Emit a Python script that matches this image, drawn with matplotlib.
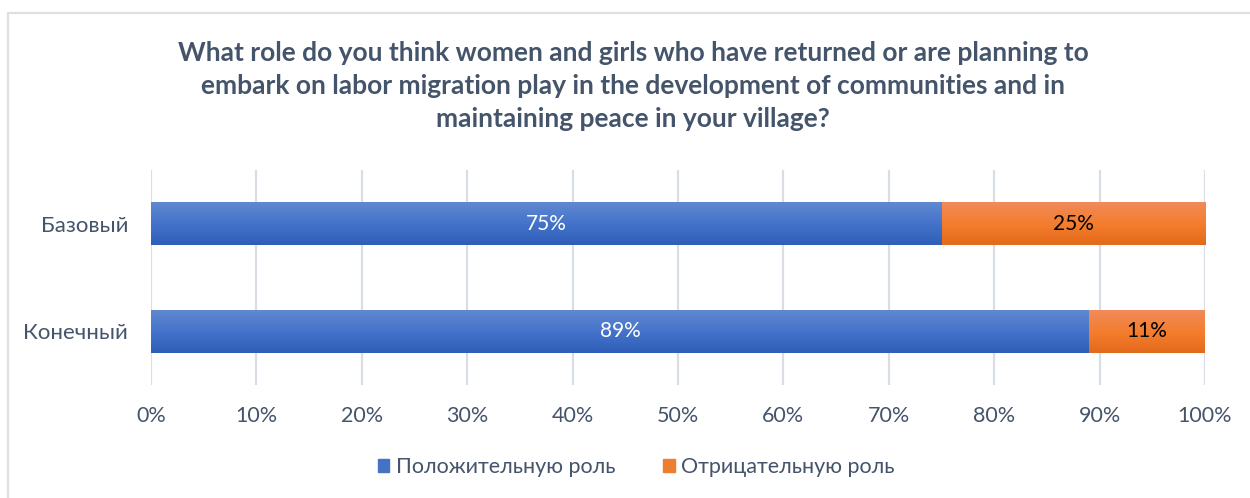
import matplotlib
matplotlib.use("Agg")
import matplotlib.pyplot as plt
import numpy as np
from matplotlib.patches import Rectangle
from matplotlib.colors import LinearSegmentedColormap

plt.rcParams['font.family'] = ['Lato', 'Noto Sans', 'DejaVu Sans']

categories = ["Базовый", "Конечный"]
positive = [75, 89]
negative = [25, 11]
series_names = ["Положительную роль", "Отрицательную роль"]
tick_values = [0, 10, 20, 30, 40, 50, 60, 70, 80, 90, 100]
tick_labels = [f"{v}%" for v in tick_values]
title = ("What role do you think women and girls who have returned or are planning to\n"
         "embark on labor migration play in the development of communities and in\n"
         "maintaining peace in your village?")

text_color = "#44546A"
blue_grad = ["#6089D2", "#4573CA", "#2F5EB9"]
orange_grad = ["#F08B5A", "#F47D2E", "#E46A1B"]
blue_solid = "#4472C4"
orange_solid = "#ED7D31"

W, H = 1250, 498
fig = plt.figure(figsize=(W / 100, H / 100), dpi=100)

# outer chart frame (top and left edges visible)
frame = Rectangle((7.5 / W, -0.1), 1.2, (H - 13.5) / H + 0.1,
                  transform=fig.transFigure, fill=False,
                  edgecolor="#DDE1E6", linewidth=1.6, zorder=0)
fig.patches.append(frame)

ax = fig.add_axes([151 / W, 1 - 385 / H, (1205 - 151) / W, (385 - 170) / H])
y = np.arange(len(categories))
bar_h = 0.40


def gradient_bars(left, widths, colors):
    cmap = LinearSegmentedColormap.from_list("g", colors)
    grad = np.linspace(0, 1, 64).reshape(-1, 1)
    bars = ax.barh(y, widths, left=left, height=bar_h, color=colors[1],
                   edgecolor="none", zorder=2)
    for b in bars:
        x0, y0 = b.get_x(), b.get_y()
        w, h = b.get_width(), b.get_height()
        im = ax.imshow(grad, cmap=cmap, aspect="auto",
                       extent=(x0, x0 + w, y0 + h, y0), zorder=3,
                       interpolation="bicubic")
        im.set_clip_path(b)
    return bars


gradient_bars(np.zeros(len(y)), positive, blue_grad)
gradient_bars(np.array(positive), negative, orange_grad)
ax.set_xlim(0, 100)
ax.set_ylim(1.5, -0.5)

for i in range(len(categories)):
    ax.text(positive[i] / 2, y[i], f"{positive[i]}%", ha="center", va="center",
            color="white", fontsize=15, zorder=4)
    ax.text(positive[i] + negative[i] / 2, y[i], f"{negative[i]}%", ha="center",
            va="center", color="black", fontsize=15, zorder=4)

ax.set_xticks(tick_values)
ax.set_xticklabels(tick_labels)
ax.set_yticks(y)
ax.set_yticklabels(categories)
ax.tick_params(axis="x", length=0, labelsize=15.5, colors=text_color, pad=15)
ax.tick_params(axis="y", length=0, labelsize=16, colors=text_color, pad=16.5)
ax.grid(axis="x", color="#D9DEE5", linewidth=1.6, zorder=0)
ax.set_axisbelow(True)
for s in ax.spines.values():
    s.set_visible(False)

fig.text(633 / W, 1 - 86 / H, title, ha="center", va="center",
         fontsize=19, fontweight="bold", color=text_color, linespacing=1.47)

handles = [Rectangle((0, 0), 1, 1, color=blue_solid),
           Rectangle((0, 0), 1, 1, color=orange_solid)]
fig.legend(handles, series_names, loc="center", bbox_to_anchor=(636 / W, 1 - 467 / H),
           ncol=2, frameon=False, fontsize=15.5, labelcolor=text_color,
           handlelength=0.55, handleheight=0.55, handletextpad=0.3,
           columnspacing=2.2)

fig.savefig("out.png", dpi=100)
